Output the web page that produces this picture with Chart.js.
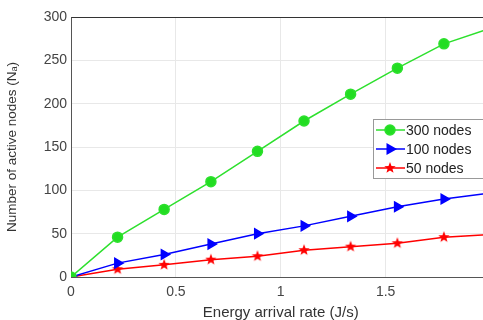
<!DOCTYPE html>
<html>
<head>
<meta charset="utf-8">
<script src="https://cdn.jsdelivr.net/npm/chart.js@4"></script>
<style>
  html, body { margin: 0; padding: 0; background: #fff; overflow: hidden; }
  #wrap { width: 498px; height: 320px; }
</style>
</head>
<body>
<div id="wrap"><canvas id="nodesChart" width="498" height="320"></canvas></div>
<script>
// energy arrival rate (J/s)
const rates = [0, 0.222, 0.444, 0.667, 0.889, 1.111, 1.333, 1.556, 1.778, 2.0];
const nodes300 = [0, 46, 78, 110, 145, 180, 211, 241, 269, 287];
const nodes100 = [0, 16, 26, 38, 50, 59, 70, 81, 90, 97];
const nodes50 = [0, 9, 14, 20, 24, 31, 35, 39, 46, 49];
const seriesLabels = ['300 nodes', '100 nodes', '50 nodes'];

const FONT = "'Liberation Sans', Arial, sans-serif";

// filled pentagram marker like matlab 'p'
function makeStar(color, r) {
    const c = document.createElement('canvas');
    const s = Math.ceil(r * 2 + 2);
    c.width = s; c.height = s;
    const g = c.getContext('2d');
    g.fillStyle = color;
    g.beginPath();
    for (let i = 0; i < 10; i++) {
        const rad = i % 2 === 0 ? r : r * 0.42;
        const a = -Math.PI / 2 + i * Math.PI / 5;
        const px = s / 2 + rad * Math.cos(a), py = s / 2 + rad * Math.sin(a);
        if (i === 0) g.moveTo(px, py); else g.lineTo(px, py);
    }
    g.closePath();
    g.fill();
    return c;
}
const redStar = makeStar('#ff0000', 6);

function toPoints(ys) {
    return ys.map((y, i) => ({ x: rates[i], y: y }));
}

// box around plot + legend inside, matlab style
const matlabBox = {
    id: 'matlabBox',
    afterDraw(chart) {
        const { ctx, chartArea: a } = chart;
        ctx.save();
        ctx.strokeStyle = '#333';
        ctx.lineWidth = 1;
        ctx.beginPath();
        ctx.moveTo(a.left + 0.5, a.top + 0.5);
        ctx.lineTo(a.right, a.top + 0.5);
        ctx.stroke();

        // legend
        const lx = 373, ly = 119, lw = 118, lh = 59;
        ctx.fillStyle = '#fff';
        ctx.fillRect(lx, ly, lw, lh);
        ctx.strokeStyle = '#999';
        ctx.strokeRect(lx + 0.5, ly + 0.5, lw, lh);
        ctx.font = '14px ' + FONT;
        ctx.textBaseline = 'middle';
        chart.data.datasets.forEach((ds, i) => {
            const yy = ly + 11 + i * 19;
            ctx.strokeStyle = ds.borderColor;
            ctx.fillStyle = ds.backgroundColor;
            ctx.lineWidth = 1.5;
            ctx.beginPath();
            ctx.moveTo(lx + 3, yy);
            ctx.lineTo(lx + 32, yy);
            ctx.stroke();
            Chart.helpers.drawPoint(ctx, {
                pointStyle: ds.pointStyle,
                radius: ds.pointRadius,
                rotation: ds.pointRotation || 0,
                borderWidth: 1
            }, lx + 17, yy);
            ctx.fillStyle = '#222';
            ctx.fillText(ds.label, lx + 33, yy + 1);
        });
        ctx.restore();
    }
};

function initNodesChart() {
    const el = document.getElementById('nodesChart');
    if (!el) return;
    new Chart(el.getContext('2d'), {
        type: 'line',
        data: {
            datasets: [{
                label: seriesLabels[0],
                data: toPoints(nodes300),
                borderColor: '#2ee02e',
                backgroundColor: '#22dd22',
                pointStyle: 'circle',
                pointRadius: 5,
                borderWidth: 1.5
            }, {
                label: seriesLabels[1],
                data: toPoints(nodes100),
                borderColor: '#0000ff',
                backgroundColor: '#0000ff',
                pointStyle: 'triangle',
                pointRotation: 90,
                pointRadius: 5.5,
                borderWidth: 1.5
            }, {
                label: seriesLabels[2],
                data: toPoints(nodes50),
                borderColor: '#ff0000',
                backgroundColor: '#ff0000',
                pointStyle: redStar,
                pointRadius: 6,
                borderWidth: 1.5
            }]
        },
        options: {
            responsive: false,
            animation: false,
            layout: { padding: { top: 17, right: 0, left: 0, bottom: 0 } },
            plugins: {
                legend: { display: false },
                tooltip: { enabled: false }
            },
            scales: {
                x: {
                    type: 'linear',
                    min: 0,
                    max: 2,
                    afterFit(s) { s.height = 43; },
                    ticks: {
                        stepSize: 0.5,
                        color: '#444',
                        font: { family: FONT, size: 14 },
                        padding: 7,
                        // the last label sits past the cropped right edge
                        callback: (v) => (v >= 2 ? '' : v)
                    },
                    grid: { color: '#e8e8e8', tickLength: 0 },
                    border: { color: '#555' },
                    title: { display: true, text: 'Energy arrival rate (J/s)', color: '#333', font: { family: FONT, size: 15 }, padding: { top: 2, bottom: -2 } }
                },
                y: {
                    min: 0,
                    max: 300,
                    afterFit(s) { s.width = 71; },
                    ticks: { stepSize: 50, color: '#444', font: { family: FONT, size: 14 }, padding: 4 },
                    grid: { color: '#e8e8e8', tickLength: 0 },
                    border: { color: '#555' },
                    title: { display: true, text: 'Number of active nodes (N\u2090)', color: '#333', font: { family: FONT, size: 13.5 }, padding: { bottom: 1 } }
                }
            }
        },
        plugins: [matlabBox]
    });
}

document.addEventListener('DOMContentLoaded', function() {
    initNodesChart();
});
</script>
</body>
</html>
